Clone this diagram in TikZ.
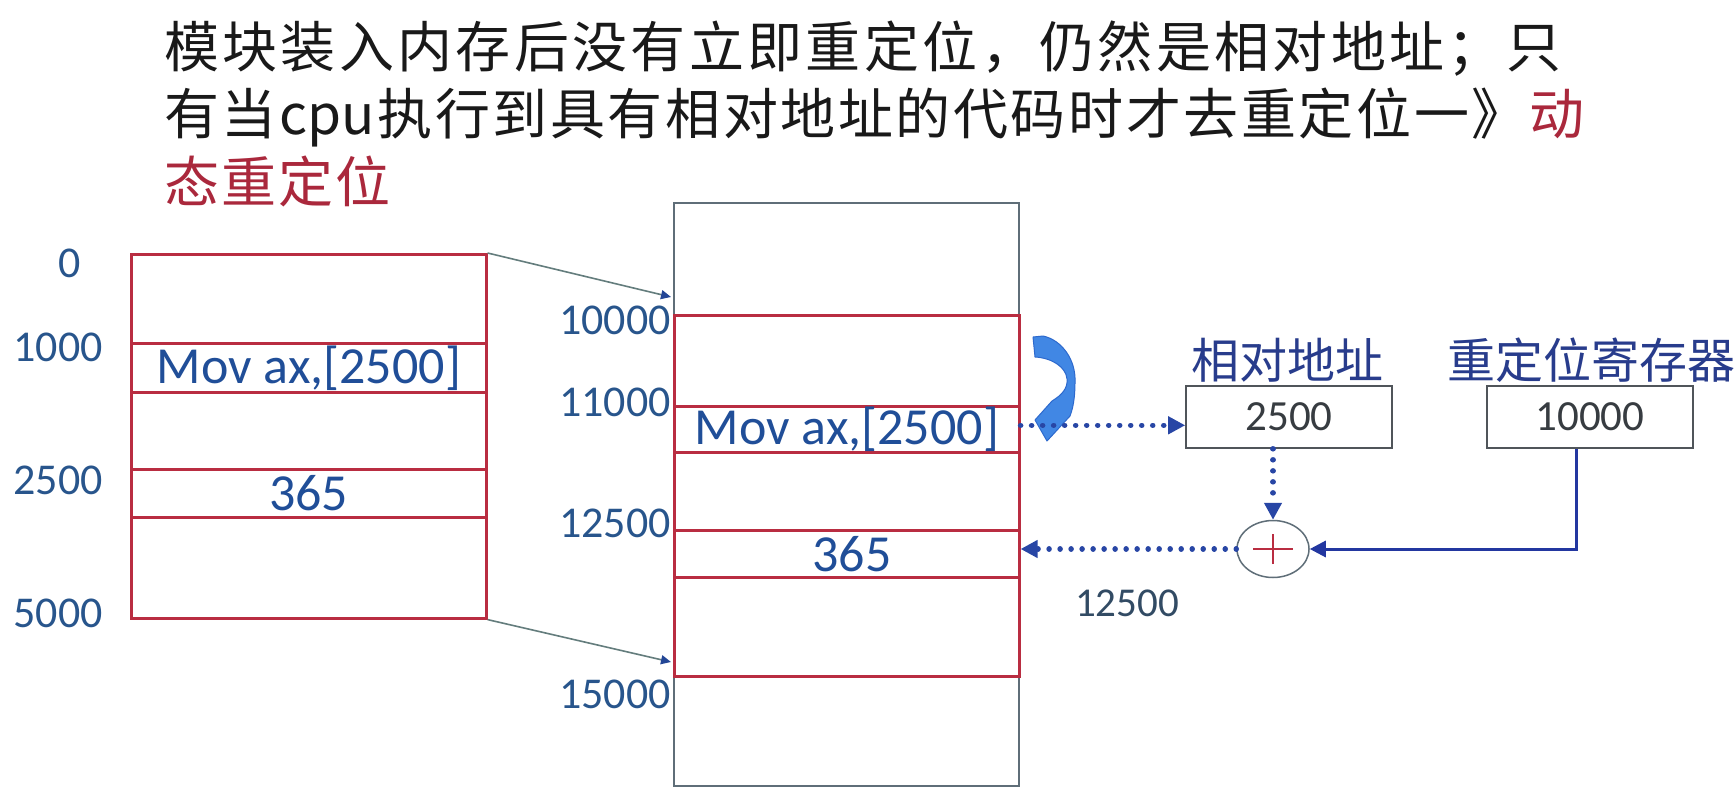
\documentclass[tikz,border=0pt]{standalone}
\usepackage{fontspec}
\newfontfamily\cjkfont{Noto Sans CJK SC}
\newfontfamily\calfont{Carlito}
\usetikzlibrary{shapes.geometric,arrows.meta}
\definecolor{redl}{RGB}{185,45,65}
\definecolor{grayl}{RGB}{95,110,120}
\definecolor{connc}{RGB}{100,125,125}
\definecolor{tipblue}{RGB}{35,70,150}
\definecolor{numblue}{RGB}{40,85,140}
\definecolor{movblue}{RGB}{32,78,152}
\definecolor{hdrblue}{RGB}{40,60,140}
\definecolor{dotblue}{RGB}{40,70,165}
\definecolor{solblue}{RGB}{35,55,160}
\definecolor{valgray}{RGB}{55,60,65}
\definecolor{boxgray}{RGB}{80,85,90}
\definecolor{titleblack}{RGB}{25,25,25}
\definecolor{titlered}{RGB}{170,40,60}
\definecolor{curvefill}{RGB}{65,135,228}
\definecolor{curvedraw}{RGB}{45,105,205}
\definecolor{resgray}{RGB}{50,75,100}
\def\spread#1{\spreadA#1\relax\relax}
\def\spreadA#1#2{#1\ifx#2\relax\else\hfil\expandafter\spreadA\expandafter#2\fi}
\def\cpuw{cpu}
\begin{document}
\begin{tikzpicture}[x=1pt,y=-1pt,
  titlefont/.style={font=\cjkfont\fontsize{55}{60}\selectfont, text=titleblack, inner sep=0pt, anchor=base west},
  redrow/.style={draw=redl, line width=2.6pt, inner sep=0pt, anchor=north west},
  grayrow/.style={draw=grayl, line width=1.6pt, inner sep=0pt, anchor=north west},
  lblnum/.style={text=numblue, font=\calfont\fontsize{44}{44}\selectfont, inner sep=0pt},
  celltxt/.style={text=movblue, font=\calfont\fontsize{52}{52}\selectfont, inner sep=0pt},
  conn/.style={draw=connc, line width=1.6pt, -{Triangle[length=10pt,width=9pt,color=tipblue]}},
  dotarrow/.style={draw=dotblue, line width=5.5pt, line cap=round, dash pattern=on 0.01pt off 11pt, -{Triangle[length=17pt,width=17pt,line cap=butt]}},
  solarrow/.style={draw=solblue, line width=3pt, -{Triangle[length=16pt,width=16pt]}},
  valbox/.style={draw=boxgray, line width=1.6pt, minimum width=206pt, minimum height=62pt, inner sep=0pt, text=valgray, font=\calfont\fontsize{43}{43}\selectfont},
  hdr/.style={text=hdrblue, font=\cjkfont\fontsize{48}{48}\selectfont, inner sep=0pt}
]
\useasboundingbox (0,0) rectangle (1734,797);
\fill[white] (0,0) rectangle (1734,797);

% title
\node[titlefont] (t1) at (164,68) {\makebox[1397pt][s]{\spread{模块装入内存后没有立即重定位，仍然是相对地址；只}}};
\node[titlefont] (t2) at (164,135) {\makebox[1420pt][s]{\spread{有当\cpuw 执行到具有相对地址的代码时才去重定位一》}\hfil{\color{titlered}动}}};
\node[titlefont, text=titlered] (t3) at (164,202) {\makebox[226pt][s]{\spread{态重定位}}};

% left memory
\node[redrow, minimum width=355pt, minimum height=89pt] (L0) at (130,253) {};
\node[redrow, minimum width=355pt, minimum height=49pt] (L1) at (130,342) {};
\node[redrow, minimum width=355pt, minimum height=77pt] (L2) at (130,391) {};
\node[redrow, minimum width=355pt, minimum height=48pt] (L3) at (130,468) {};
\node[redrow, minimum width=355pt, minimum height=101pt] (L4) at (130,516) {};
\node[celltxt] (L1t) at (L1.center) {Mov ax,[2500]};
\node[celltxt] (L3t) at (L3.center) {365};

\node[lblnum] (a0) at (70,263) {0};
\node[lblnum] (a1) at (58,347) {1000};
\node[lblnum] (a2) at (58,480) {2500};
\node[lblnum] (a3) at (58,613) {5000};

% right memory
\node[grayrow, minimum width=345pt, minimum height=583pt] (R) at (673,202) {};
\node[redrow, minimum width=345pt, minimum height=91pt] (R0) at (673,314) {};
\node[redrow, minimum width=345pt, minimum height=46pt] (R1) at (673,405) {};
\node[redrow, minimum width=345pt, minimum height=78pt] (R2) at (673,451) {};
\node[redrow, minimum width=345pt, minimum height=47pt] (R3) at (673,529) {};
\node[redrow, minimum width=345pt, minimum height=99pt] (R4) at (673,576) {};
\node[celltxt] (R1t) at (R1.center) {Mov ax,[2500]};
\node[celltxt] (R3t) at ([xshift=5pt]R3.center) {365};

\node[lblnum, anchor=east] (b0) at (671,320) {10000};
\node[lblnum, anchor=east] (b1) at (671,402) {11000};
\node[lblnum, anchor=east] (b2) at (671,523) {12500};
\node[lblnum, anchor=east] (b3) at (671,694) {15000};

% mapping connectors
\coordinate (p1) at (671,297);
\coordinate (p2) at (671,662);
\draw[conn] (L0.north east) -- (p1);
\draw[conn] (L4.south east) -- (p2);

% curved block arrow
\filldraw[fill=curvefill, draw=curvedraw, line width=1pt, line join=round]
  (1033,337) -- (1043,336) .. controls (1062,340) and (1076,360) .. (1075,382)
  .. controls (1075,398) and (1073,408) .. (1070,416) -- (1047,441) -- (1035,420)
  -- (1052,401) .. controls (1062,395) and (1068,388) .. (1067,379)
  .. controls (1066,367) and (1052,358) .. (1035,357) -- cycle;

% registers
\node[hdr] (relt) at (1287,360) {相对地址};
\node[hdr] (regt) at (1591,360) {重定位寄存器};
\node[valbox] (rel) at (1289,417) {2500};
\node[valbox] (reg) at (1590,417) {10000};

% adder
\node[ellipse, draw=grayl, line width=1.5pt, fill=white, minimum width=72pt, minimum height=57pt, inner sep=0pt] (plus) at (1273,549) {};
\draw[redl, line width=1.8pt] ([xshift=-20pt]plus.center) -- ([xshift=20pt]plus.center);
\draw[redl, line width=1.8pt] ([yshift=-15pt]plus.center) -- ([yshift=15pt]plus.center);

% flows
\draw[dotarrow] ([yshift=4pt]R1.east) -- ([yshift=4pt]R1.east -| rel.west);
\draw[dotarrow] (plus.north |- rel.south) -- (plus.north);
\draw[dotarrow] (plus.west) -- (plus.west -| R3.east);
\draw[solarrow] ([xshift=-14pt]reg.south) |- (plus.east);

\node[text=resgray, font=\calfont\fontsize{41}{41}\selectfont, inner sep=0pt] (res) at (1127,603) {12500};
\end{tikzpicture}
\end{document}
